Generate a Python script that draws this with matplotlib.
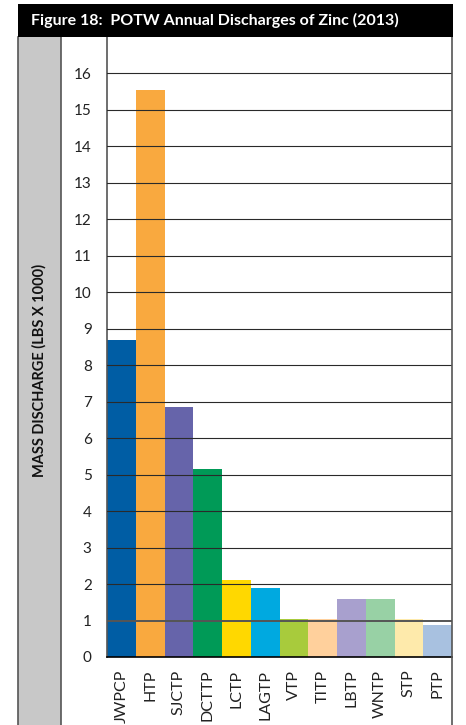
import matplotlib
matplotlib.use("Agg")
import matplotlib.pyplot as plt
from matplotlib.lines import Line2D
from matplotlib.patches import Rectangle

plt.rcParams['font.family'] = ['Lato', 'DejaVu Sans']

# data
plants = ['JWPCP', 'HTP', 'SJCTP', 'DCTTP', 'LCTP', 'LAGTP',
          'VTP', 'TITP', 'LBTP', 'WNTP', 'STP', 'PTP']
zinc = [8.70, 15.56, 6.85, 5.15, 2.11, 1.89,
        1.04, 1.03, 1.59, 1.59, 1.03, 0.88]
colors = ['#005da4', '#f9a93f', '#6664aa', '#009a57', '#ffd800', '#00a9e0',
          '#a8cb3c', '#ffd09c', '#a8a0ce', '#98d1a5', '#feeaab', '#a8c1e0']
yticks = list(range(0, 17))

W, H = 466, 725
fig = plt.figure(figsize=(W / 100, H / 100), dpi=100)

def fx(px):
    return px / W

def fy(py):
    return 1 - py / H

# gray label strip and frame
fig.patches.append(Rectangle((fx(18), 0), fx(61) - fx(18), fy(37), transform=fig.transFigure,
                             facecolor='#c8c8c8', edgecolor='none', zorder=0))
for xp in [18, 61, 452]:
    fig.lines.append(Line2D([fx(xp), fx(xp)], [0, fy(37)], transform=fig.transFigure,
                            color='#555555', lw=1.2, zorder=5))

# title bar
fig.patches.append(Rectangle((fx(18), fy(37)), fx(453) - fx(18), fy(4) - fy(37),
                             transform=fig.transFigure, facecolor='black',
                             edgecolor='none', zorder=6))
fig.text(fx(31), fy(20.5), 'Figure 18:  POTW Annual Discharges of Zinc (2013)',
         color='white', fontsize=11.5, fontweight='bold', va='center', ha='left', zorder=7)

ax = fig.add_axes([fx(107), fy(657), fx(452) - fx(107), fy(37) - fy(657)])
x = list(range(len(plants)))
ax.bar(x, zinc, width=1.0, color=colors, zorder=2)
for v in yticks[1:]:
    if v == 1:
        ax.axhline(v, color='#555555', lw=1.4, zorder=3)
    else:
        ax.axhline(v, color='#2a2a2a', lw=0.8, zorder=3)

ax.set_xlim(-0.5, len(plants) - 0.5)
ax.set_ylim(0, 17)
ax.set_yticks(yticks)
ax.set_yticklabels([str(v) for v in yticks], fontsize=11, color='#222222')
ax.set_xticks(x)
ax.set_xticklabels(plants, rotation=90, fontsize=11.5, color='#222222')
ax.tick_params(axis='both', length=0)
ax.tick_params(axis='y', pad=11)
ax.tick_params(axis='x', pad=9)
for s in ['top', 'right']:
    ax.spines[s].set_visible(False)
ax.spines['left'].set_color('#555555')
ax.spines['left'].set_linewidth(1.2)
ax.spines['bottom'].set_color('black')
ax.spines['bottom'].set_linewidth(1.2)

fig.text(fx(39.5), fy(370), 'MASS DISCHARGE (LBS X 1000)', rotation=90,
         fontsize=10.5, fontweight='bold', ha='center', va='center', color='#111111')

fig.savefig('out.png', dpi=100)
